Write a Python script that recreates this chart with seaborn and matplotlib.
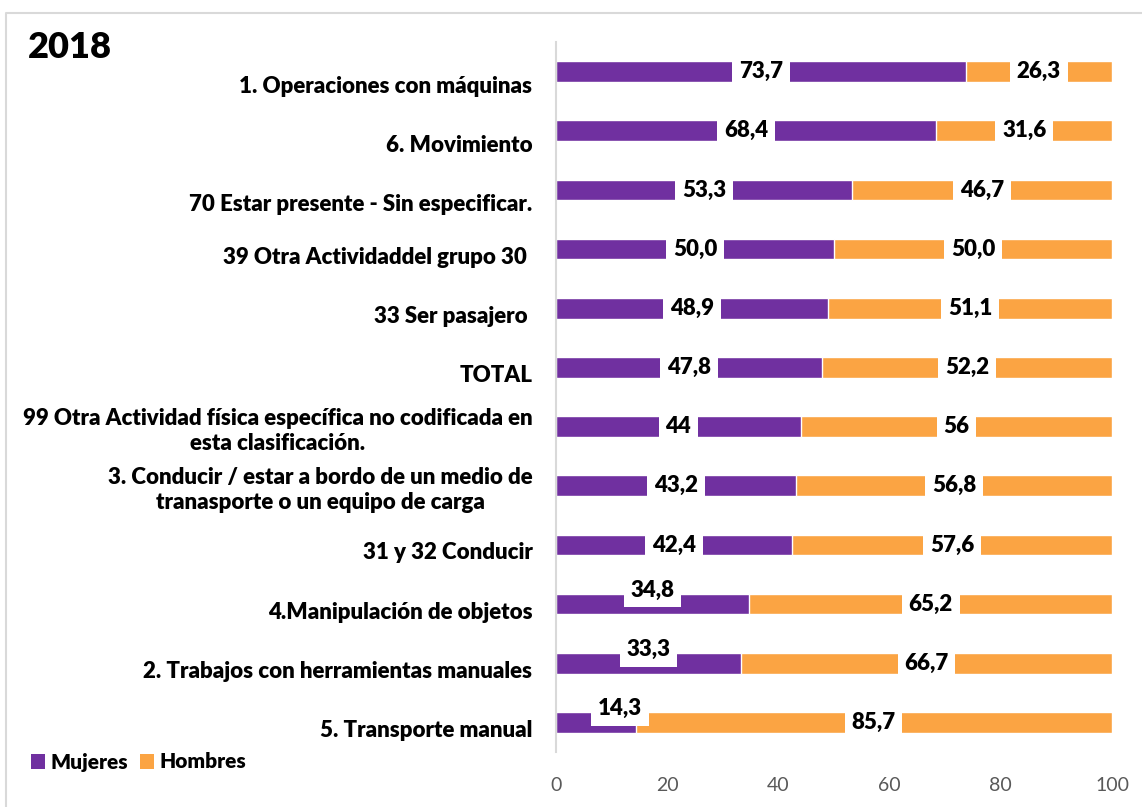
import matplotlib
matplotlib.use("Agg")
import matplotlib.pyplot as plt
import matplotlib.transforms as mtransforms
from matplotlib.lines import Line2D
from matplotlib.patches import Patch
import pandas as pd
import seaborn as sns

# Actividad física específica, distribución por sexo (%)
categorias = [
    "1. Operaciones con máquinas",
    "6. Movimiento",
    "70 Estar presente - Sin especificar.",
    "39 Otra Actividaddel grupo 30 ",
    "33 Ser pasajero ",
    "TOTAL",
    "99 Otra Actividad física específica no codificada en\nesta clasificación.",
    "3. Conducir / estar a bordo de un medio de\ntranasporte o un equipo de carga",
    "31 y 32 Conducir",
    "4.Manipulación de objetos",
    "2. Trabajos con herramientas manuales",
    "5. Transporte manual",
]
mujeres = [73.7, 68.4, 53.3, 50.0, 48.9, 47.8, 44, 43.2, 42.4, 34.8, 33.3, 14.3]
hombres = [26.3, 31.6, 46.7, 50.0, 51.1, 52.2, 56, 56.8, 57.6, 65.2, 66.7, 85.7]
etiquetas_m = ["73,7", "68,4", "53,3", "50,0", "48,9", "47,8", "44", "43,2", "42,4", "34,8", "33,3", "14,3"]
etiquetas_h = ["26,3", "31,6", "46,7", "50,0", "51,1", "52,2", "56", "56,8", "57,6", "65,2", "66,7", "85,7"]
titulo = "2018"
xticks = [0, 20, 40, 60, 80, 100]

PURPLE = "#7030A0"
ORANGE = "#FBA443"
FS = 16

sns.set_theme(style="white")
plt.rcParams["font.family"] = ["Lato", "DejaVu Sans"]
plt.rcParams["text.color"] = "black"

df = pd.DataFrame({
    "categoria": categorias,
    "Mujeres": mujeres,
    "Hombres": hombres,
})
df["total"] = df["Mujeres"] + df["Hombres"]

fig = plt.figure(figsize=(11.42, 8.07), dpi=100)
ax = fig.add_axes([556 / 1142, 1 - 752 / 807, (1112 - 556) / 1142, (752 - 42) / 807])

# stacked bars: full length in orange, women share over it in purple
sns.barplot(data=df, x="total", y="categoria", color=ORANGE, width=0.35,
            saturation=1, ax=ax, orient="h")
sns.barplot(data=df, x="Mujeres", y="categoria", color=PURPLE, width=0.35,
            saturation=1, ax=ax, orient="h")

ax.set_xlim(0, 100)
ax.set_ylim(len(categorias) - 0.5, -0.5)
ax.set_xlabel("")
ax.set_ylabel("")
ax.set_xticks(xticks)
ax.set_xticklabels([str(t) for t in xticks], fontsize=14, color="#595959")
ax.tick_params(axis="x", length=0, pad=18)
ax.tick_params(axis="y", length=0, pad=17)
for s in ["top", "right", "bottom"]:
    ax.spines[s].set_visible(False)
ax.spines["left"].set_color("#D9D9D9")
ax.spines["left"].set_linewidth(1.5)

# category labels, right aligned next to the axis
ax.set_yticks(range(len(categorias)))
ax.set_yticklabels(categorias, fontsize=FS, fontweight="heavy", color="black",
                   multialignment="center", linespacing=1.25)
for i, lab in enumerate(ax.get_yticklabels()):
    if "\n" in lab.get_text():
        dy = 0
    elif i < 3:
        dy = -13
    else:
        dy = -6
    lab.set_transform(lab.get_transform() +
                      mtransforms.ScaledTranslation(0, dy / 100, fig.dpi_scale_trans))

# value labels on white boxes
box = dict(boxstyle="square,pad=0.3", facecolor="white", edgecolor="none")
for i in range(len(categorias)):
    m, h = mujeres[i], hombres[i]
    if m < 36:
        # short segments: label sits above the bar
        ax.annotate(etiquetas_m[i], xy=(max(m / 2, 11.5), i), xytext=(0, 10),
                    textcoords="offset points", ha="center", va="center",
                    fontsize=FS, fontweight="heavy", color="black", bbox=box)
    else:
        ax.text(m / 2, i, etiquetas_m[i], ha="center", va="center", fontsize=FS,
                fontweight="heavy", color="black", bbox=box)
    ax.text(m + h / 2, i, etiquetas_h[i], ha="center", va="center", fontsize=FS,
            fontweight="heavy", color="black", bbox=box)

# legend
handles = [Patch(facecolor=PURPLE, edgecolor="none", label="Mujeres"),
           Patch(facecolor=ORANGE, edgecolor="none", label="Hombres")]
fig.legend(handles=handles, loc="center left", bbox_to_anchor=(12 / 1142, 1 - 762 / 807),
           ncol=2, frameon=False, prop={"size": 15, "weight": "heavy"},
           handlelength=0.7, handleheight=0.7, handletextpad=0.25, columnspacing=0.55)

fig.text(28 / 1142, 1 - 48 / 807, titulo, fontsize=26, fontweight="heavy",
         color="black", ha="left", va="center")

# chart area frame
fig.add_artist(Line2D([5.5 / 1142, 5.5 / 1142, 1.0], [0.0, 1 - 12.5 / 807, 1 - 12.5 / 807],
                      transform=fig.transFigure, color="#D9D9D9", linewidth=1.5))

fig.savefig("out.png", dpi=100, facecolor="white")
